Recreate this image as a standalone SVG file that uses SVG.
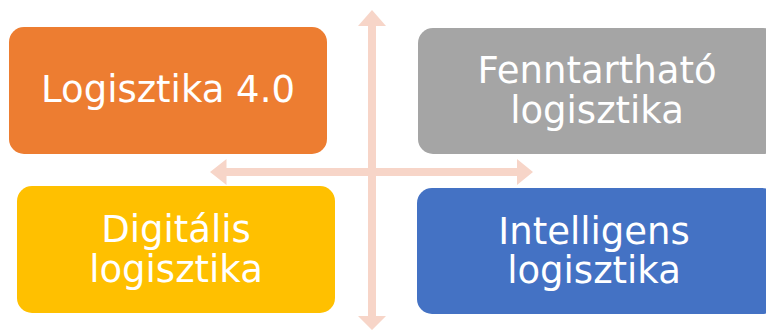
<svg xmlns="http://www.w3.org/2000/svg" width="766" height="330" viewBox="0 0 766 330">
<style>
.box{stroke:none}
.lbl{font-family:"DejaVu Sans","Verdana",sans-serif;font-size:37px;fill:#ffffff;text-anchor:middle}
.arr{fill:#F7D5C8;stroke:none}
</style>
<rect width="766" height="330" fill="#ffffff"/>
<g id="connectors">
<path class="arr" d="M372,10 L386,26 L376,26 L376,316 L386,316 L372,330 L358,316 L368,316 L368,26 L358,26 Z"/>
<path class="arr" d="M210,172 L226.5,159 L226.5,168 L517,168 L517,159 L533,172 L517,185 L517,176 L226.5,176 L226.5,185 Z"/>
</g>
<g id="logisztika40">
<rect class="box" x="9" y="27" width="318" height="127" rx="15" fill="#ED7D31"/>
<text class="lbl" x="168" y="102">Logisztika 4.0</text>
</g>
<g id="fenntarthato">
<rect class="box" x="418" y="28" width="360" height="126" rx="15" fill="#A5A5A5"/>
<text class="lbl" x="597" y="83">Fenntartható</text>
<text class="lbl" x="597" y="123">logisztika</text>
</g>
<g id="digitalis">
<rect class="box" x="17" y="186" width="318" height="127" rx="15" fill="#FFC000"/>
<text class="lbl" x="176" y="242">Digitális</text>
<text class="lbl" x="176" y="282">logisztika</text>
</g>
<g id="intelligens">
<rect class="box" x="417" y="188" width="360" height="126" rx="15" fill="#4472C4"/>
<text class="lbl" x="594" y="244">Intelligens</text>
<text class="lbl" x="594" y="283">logisztika</text>
</g>
</svg>
